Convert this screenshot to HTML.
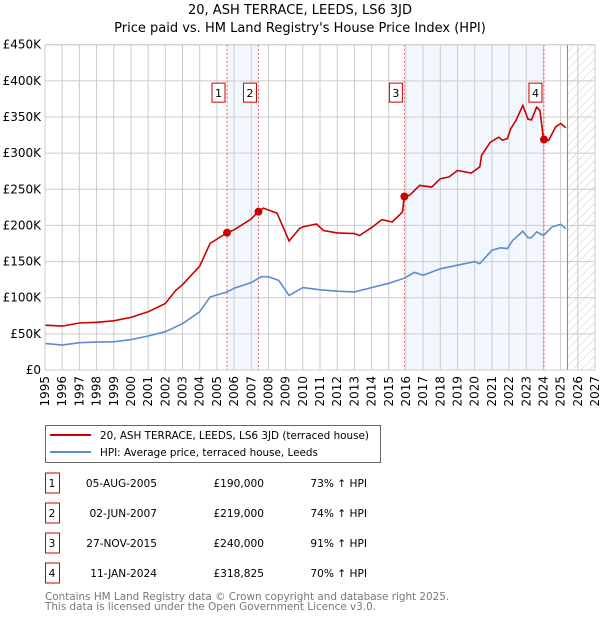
<!DOCTYPE html>
<html><head><meta charset="utf-8"><style>
body{margin:0;background:#fff;width:600px;height:620px;overflow:hidden;font-family:"DejaVu Sans","Liberation Sans",sans-serif}
svg text{font-family:"DejaVu Sans","Liberation Sans",sans-serif}
</style></head><body>
<svg id="c" width="600" height="620">
<defs><pattern id="hatch" width="6" height="6" patternUnits="userSpaceOnUse" patternTransform="rotate(45)"><line x1="0" y1="0" x2="0" y2="6" stroke="#ccc" stroke-width="1"/></pattern></defs>
<text x="300" y="14" text-anchor="middle" font-size="13">20, ASH TERRACE, LEEDS, LS6 3JD</text>
<text x="300" y="32" text-anchor="middle" font-size="13">Price paid vs. HM Land Registry's House Price Index (HPI)</text>
<g id="plot"></g>
<g>
<rect x="45.5" y="425.5" width="335" height="37" fill="#fff" stroke="#666"/>
<line x1="50" y1="435" x2="91" y2="435" stroke="#cc0000" stroke-width="2"/>
<text x="100" y="439" font-size="10.4">20, ASH TERRACE, LEEDS, LS6 3JD (terraced house)</text>
<line x1="50" y1="452" x2="91" y2="452" stroke="#5b8dd0" stroke-width="2"/>
<text x="100" y="456" font-size="10.4">HPI: Average price, terraced house, Leeds</text>
</g>
<g id="table" font-size="10.6"></g>
<text x="45" y="600" font-size="10.4" fill="#777">Contains HM Land Registry data © Crown copyright and database right 2025.</text>
<text x="45" y="610" font-size="10.4" fill="#777">This data is licensed under the Open Government Licence v3.0.</text>
</svg>
<script>
const hpiYears=[1995,1996,1997,1998,1999,2000,2001,2002,2003,2004,2004.6,2005.6,2006,2007,2007.6,2008,2008.6,2009.2,2010,2011,2012,2013,2014,2015,2015.9,2016.5,2017,2018,2019,2020,2020.3,2021,2021.5,2021.9,2022.2,2022.8,2023.1,2023.3,2023.6,2024,2024.5,2025,2025.3];
const hpiValues=[36.8,34.5,37.7,38.6,39,42,47,53,64,80.5,101,108,113,121,129,129,124,103,114,111,109,108,114,120,127,135,131,140,145,150,147,165.7,169,168,179,192,183,183,191,186,198,201.5,195.6];
const priceYears=[1995,1996,1997,1998,1999,2000,2001,2002,2002.6,2003,2004,2004.6,2005.6,2006,2007,2007.4,2007.7,2008.5,2009.2,2009.8,2010,2010.8,2011.2,2012,2013,2013.3,2014,2014.6,2015.2,2015.8,2015.9,2016.2,2016.8,2017.5,2018,2018.5,2019,2019.8,2020.3,2020.4,2020.9,2021.4,2021.6,2021.9,2022.1,2022.4,2022.8,2023.1,2023.3,2023.6,2023.8,2024,2024.3,2024.7,2025,2025.3];
const priceValues=[62,60.7,65,66,68,72.7,80.5,92,110,118,143.6,175,190,194,209,219,224,217,178.5,195.6,198,202,193,189.6,188.7,186,197,208,204.8,218.6,240,241.6,255.4,253,264.6,267,276,272.5,281,297,315,322,318,320,334,345,366,347,346,363.5,359,320,317.5,336,341,335];
const saleLabels=["1","2","3","4"];
const saleYears=[2005.59,2007.42,2015.91,2024.03];
const salePrices=[190,219,240,318.825];
const saleDates=["05-AUG-2005","02-JUN-2007","27-NOV-2015","11-JAN-2024"];
const salePriceText=["£190,000","£219,000","£240,000","£318,825"];
const saleHpiText=["73% ↑ HPI","74% ↑ HPI","91% ↑ HPI","70% ↑ HPI"];
const yTicks=[0,50,100,150,200,250,300,350,400,450];
const yTickLabels=["£0","£50K","£100K","£150K","£200K","£250K","£300K","£350K","£400K","£450K"];
const xTicks=[1995,1996,1997,1998,1999,2000,2001,2002,2003,2004,2005,2006,2007,2008,2009,2010,2011,2012,2013,2014,2015,2016,2017,2018,2019,2020,2021,2022,2023,2024,2025,2026,2027];
const dataEndYear=2025.4;

const L=45,R=595,T=44.7,B=370,X0=1995,X1=2027,Ymax=450;
const xs=v=>L+(v-X0)/(X1-X0)*(R-L);
const ys=v=>B-v/Ymax*(B-T);
const NS="http://www.w3.org/2000/svg";
const plot=document.getElementById('plot');
function mk(tag,attrs,parent){const e=document.createElementNS(NS,tag);for(const k in attrs)e.setAttribute(k,attrs[k]);(parent||plot).appendChild(e);return e;}

let e;
e=mk('rect',{x:xs(saleYears[0]),y:T,width:xs(saleYears[1])-xs(saleYears[0]),height:B-T,fill:'#f2f6fd'});


e=mk('rect',{x:xs(saleYears[2]),y:T,width:xs(saleYears[3])-xs(saleYears[2]),height:B-T,fill:'#f2f6fd'});


e=mk('rect',{x:xs(dataEndYear),y:T,width:R-xs(dataEndYear),height:B-T,fill:'url(#hatch)'});



yTicks.forEach((v,i)=>{
 let g=mk('line',{x1:L,x2:R,y1:ys(v),y2:ys(v),stroke:'#ccc','stroke-width':1});
 
 
 let t=mk('text',{x:L-4,y:ys(v)+4,'text-anchor':'end','font-size':12});
 t.textContent=yTickLabels[i];
 
 
});
xTicks.forEach(v=>{
 let g=mk('line',{x1:xs(v),x2:xs(v),y1:T,y2:B,stroke:'#ccc','stroke-width':1});
 
 
 let t=mk('text',{x:0,y:0,'text-anchor':'end','font-size':12,transform:`translate(${xs(v)+4},${B+6}) rotate(-90)`});
 t.textContent=v;
 
 
});
e=mk('line',{x1:xs(dataEndYear),x2:xs(dataEndYear),y1:T,y2:B,stroke:'#888','stroke-width':1});



saleYears.forEach((v,i)=>{
 let l=mk('line',{x1:xs(v),x2:xs(v),y1:T,y2:B,stroke:'#e06060','stroke-width':1,'stroke-dasharray':'2,2'});
 
 
 let r=mk('rect',{x:xs(v)-15,y:ys(383)-10,width:13,height:19,fill:'#fff',stroke:'#cc0000'});
 
 
 let t=mk('text',{x:xs(v)-8.5,y:ys(383)+4,'text-anchor':'middle','font-size':11});
 t.textContent=saleLabels[i];
 
 
});

function path(xa,va){return xa.map((x,i)=>(i?'L':'M')+xs(x).toFixed(1)+','+ys(va[i]).toFixed(1)).join('');}
e=mk('path',{d:path(hpiYears,hpiValues),fill:'none',stroke:'#5b8dd0','stroke-width':1.6});


e=mk('path',{d:path(priceYears,priceValues),fill:'none',stroke:'#cc0000','stroke-width':1.6});


saleYears.forEach((v,i)=>{
 let c=mk('circle',{cx:xs(v),cy:ys(salePrices[i]),r:4,fill:'#cc0000'});
 
 
});
e=mk('rect',{x:L,y:T,width:R-L,height:B-T,fill:'none',stroke:'#ccc'});



const tb=document.getElementById('table');
saleLabels.forEach((lab,i)=>{
 const cy=483+i*30;
 let r=mk('rect',{x:45.5,y:cy-10,width:14,height:20,fill:'#fff',stroke:'#cc0000'},tb);
 
 
 const cells=[[52,lab,'middle'],[157,saleDates[i],'end'],[264,salePriceText[i],'end'],[367,saleHpiText[i],'end']];
 cells.forEach(([x,txt,a])=>{
  let t=mk('text',{x:x,y:cy+4,'text-anchor':a,'font-size':10.6},tb);
  t.textContent=txt;
  
  
 });
});
</script>
</body></html>
